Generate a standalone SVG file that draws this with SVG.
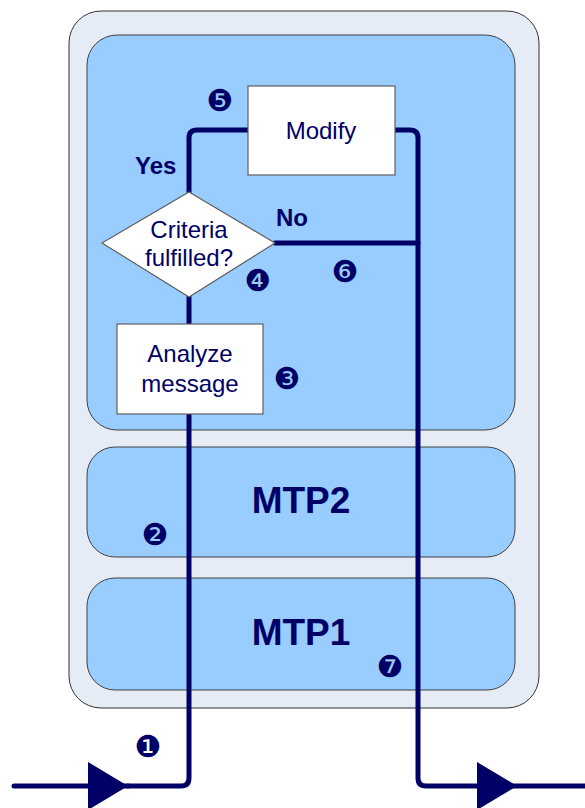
<svg xmlns="http://www.w3.org/2000/svg" width="585" height="808" viewBox="0 0 585 808">
<style>
.panel{fill:#99CCFF;stroke:#404040;stroke-width:1}
.box{fill:#FFFFFF;stroke:#606060;stroke-width:1.2}
.txt{font-family:"Liberation Sans",Arial,sans-serif;fill:#000066;text-anchor:middle;font-size:24px}
.lbl{font-family:"Liberation Sans",Arial,sans-serif;fill:#000066;font-weight:bold}
.num{font-family:"DejaVu Sans",sans-serif;fill:#000066;font-size:30px;text-anchor:middle}
.wire{fill:none;stroke:#000066;stroke-width:5;stroke-linecap:round;stroke-linejoin:round}
</style>
<g id="container">
<rect x="69" y="11" width="470" height="697" rx="32" fill="#E6ECF6" stroke="#333333" stroke-width="1"/>
</g>
<g id="processing">
<rect class="panel" x="87" y="35" width="428" height="395" rx="30"/>
</g>
<g id="mtp2">
<rect class="panel" x="87" y="447" width="428" height="110" rx="28"/>
<text class="lbl" x="301" y="513" font-size="37" text-anchor="middle">MTP2</text>
</g>
<g id="mtp1">
<rect class="panel" x="87" y="578" width="428" height="112" rx="28"/>
<text class="lbl" x="301" y="645" font-size="37" text-anchor="middle">MTP1</text>
</g>
<g id="connectors">
<path class="wire" d="M14,786 L128,786"/>
<path d="M88,762 L128,786 L88,810 Z" fill="#000066"/>
<path class="wire" d="M128,786 L181,786 Q189,786 189,778 L189,414"/>
<path class="wire" d="M189,324 L189,297"/>
<path class="wire" d="M189,192 L189,138 Q189,130 197,130 L248,130"/>
<path class="wire" d="M395,130 L410,130 Q418,130 418,138 L418,778 Q418,786 426,786 L585,786"/>
<path d="M477,762 L517,786 L477,810 Z" fill="#000066"/>
<path class="wire" d="M275,243 L418,243"/>
</g>
<g id="modify">
<rect class="box" x="248" y="86" width="147" height="89"/>
<text class="txt" x="321" y="139">Modify</text>
</g>
<g id="criteria">
<polygon class="box" points="189,192 275,243 189,297 102,243"/>
<text class="txt" x="189" y="238">Criteria</text>
<text class="txt" x="189" y="266">fulfilled?</text>
</g>
<g id="analyze">
<rect class="box" x="117" y="324" width="146" height="90"/>
<text class="txt" x="190" y="362">Analyze</text>
<text class="txt" x="190" y="392">message</text>
</g>
<g id="labels">
<text class="lbl" x="135" y="174" font-size="24">Yes</text>
<text class="lbl" x="276" y="226" font-size="24">No</text>
<text class="num" x="148" y="757">❶</text>
<text class="num" x="155" y="545">❷</text>
<text class="num" x="287" y="389">❸</text>
<text class="num" x="258" y="291">❹</text>
<text class="num" x="220" y="111">❺</text>
<text class="num" x="345" y="282">❻</text>
<text class="num" x="390" y="677">❼</text>
</g>
</svg>
